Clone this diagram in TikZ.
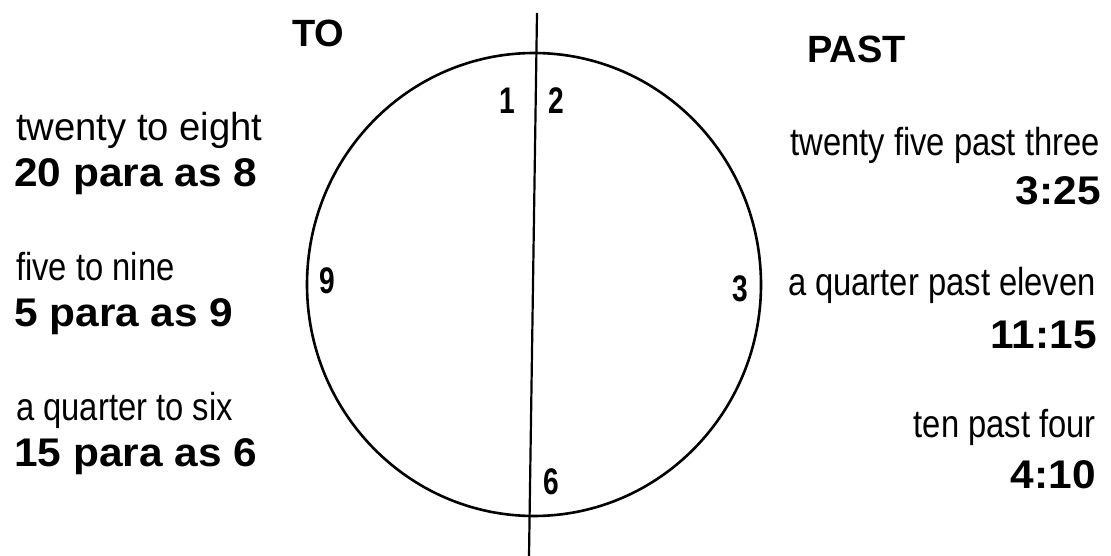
\documentclass[tikz,border=0pt]{standalone}
\usepackage{fontspec}
\setmainfont{Liberation Sans}
\newfontfamily\regfont{Liberation Sans}[FakeStretch=0.84]
\newfontfamily\regwide{Liberation Sans}[FakeStretch=0.98]
\newfontfamily\widebold{Liberation Sans}[FakeStretch=1.06]
\newfontfamily\narrowbold{Liberation Sans}[FakeStretch=0.76]
\tikzset{
  lbl/.style={inner sep=0pt, font=\regfont\fontsize{39}{42}\selectfont},
  lblwide/.style={inner sep=0pt, font=\regwide\fontsize{39}{42}\selectfont},
  val/.style={inner sep=0pt, font=\widebold\bfseries\fontsize{40}{42}\selectfont},
  head/.style={inner sep=0pt, font=\bfseries\fontsize{38}{40}\selectfont},
  num/.style={inner sep=0pt, anchor=base, font=\narrowbold\bfseries\fontsize{37}{40}\selectfont},
  clockline/.style={line width=2.6pt, black}
}
\begin{document}
\begin{tikzpicture}[x=1pt,y=-1pt]
\useasboundingbox (0,0) rectangle (1111,556);
\fill[white] (0,0) rectangle (1111,556);
% clock face
\coordinate (c) at (534,284.5);
\draw[clockline] (c) ellipse [x radius=227, y radius=231.5];
\coordinate (top) at (537,13);
\coordinate (bot) at (529,556);
\draw[line width=2.2pt] (top) -- (bot);
% headings
\node[head, anchor=base west] (to) at (292,47) {TO};
\node[head, anchor=base west] (past) at (807,63) {PAST};
% clock numbers
\node[num] (n1) at (507,114) {1};
\node[num] (n2) at (556,114) {2};
\node[num] (n9) at (327,293) {9};
\node[num] (n3) at (740,301) {3};
\node[num] (n6) at (551,494) {6};
% left column
\node[lblwide, anchor=base west] (l1) at (16,141) {twenty to eight};
\node[val, anchor=base west] (v1) at (14,187) {20 para as 8};
\node[lbl, anchor=base west] (l2) at (16,280) {five to nine};
\node[val, anchor=base west] (v2) at (14,326) {5 para as 9};
\node[lbl, anchor=base west] (l3) at (16,420) {a quarter to six};
\node[val, anchor=base west] (v3) at (14,466) {15 para as 6};
% right column
\node[lbl, anchor=base east] (r1) at (1100,156) {twenty five past three};
\node[val, anchor=base east] (w1) at (1101,205) {3:25};
\node[lbl, anchor=base east] (r2) at (1096,295) {a quarter past eleven};
\node[val, anchor=base east] (w2) at (1097,348) {11:15};
\node[lbl, anchor=base east] (r3) at (1096,437) {ten past four};
\node[val, anchor=base east] (w3) at (1096,488) {4:10};
\end{tikzpicture}
\end{document}
